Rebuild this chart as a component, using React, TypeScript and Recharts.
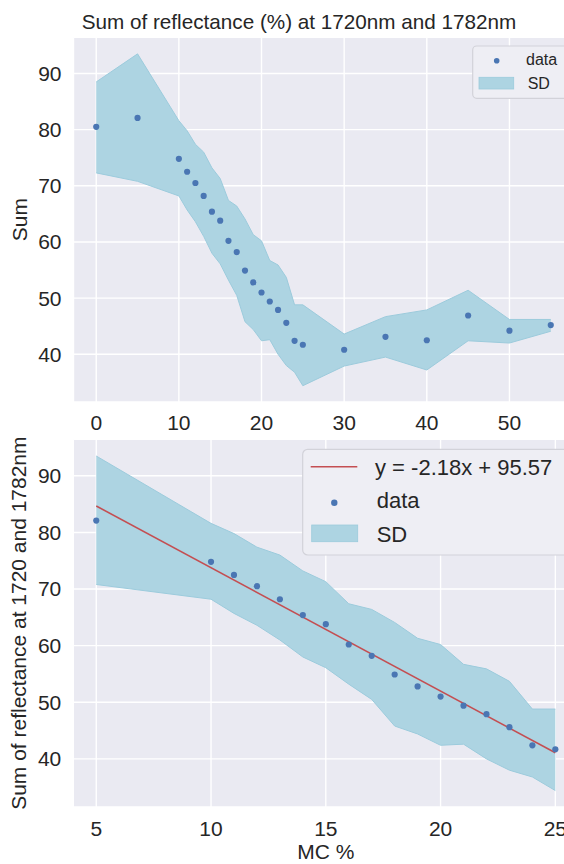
import {
  ComposedChart,
  Area,
  Line,
  Scatter,
  XAxis,
  YAxis,
  ZAxis,
  CartesianGrid,
} from "recharts";

// moisture content (%) and sum of reflectance at 1720nm + 1782nm
const MC = [0, 5, 10, 11, 12, 13, 14, 15, 16, 17, 18, 19, 20, 21, 22, 23, 24, 25, 30, 35, 40, 45, 50, 55];
const SUM_MEAN = [80.5, 82.1, 74.8, 72.5, 70.5, 68.2, 65.4, 63.8, 60.2, 58.2, 54.9, 52.8, 51.0, 49.4, 47.9, 45.6, 42.4, 41.7, 40.8, 43.1, 42.5, 46.9, 44.2, 45.2];
const SD_UPPER = [88.5, 93.5, 81.6, 79.8, 77.4, 76.0, 73.2, 71.3, 67.4, 66.4, 64.1, 61.3, 60.2, 56.7, 55.9, 53.7, 48.8, 48.8, 43.6, 46.7, 47.9, 51.4, 46.2, 46.2];
const SD_LOWER = [72.3, 70.8, 68.2, 65.7, 63.6, 61.0, 58.0, 56.1, 53.2, 50.5, 45.8, 44.4, 42.4, 42.6, 40.0, 38.0, 36.8, 34.4, 37.9, 39.5, 37.2, 42.4, 42.0, 44.1];

const TOP_X_TICKS = [0, 10, 20, 30, 40, 50];
const BOTTOM_X_TICKS = [5, 10, 15, 20, 25];
const Y_TICKS = [40, 50, 60, 70, 80, 90];

// fit over the 5..25 % range
const FIT_SLOPE = -2.18;
const FIT_INTERCEPT = 95.57;
const FIT_RANGE = [5, 25];

const FONT = '"Liberation Sans", Arial, sans-serif';
const TEXT = "#262626";
const BG = "#EAEAF2";
const BLUE = "#4a76b3";
const BAND = "#add4e2";
const BAND_EDGE = "#9ccbdc";
const RED = "#c44e52";

const topRows = MC.map((x, i) => ({
  x,
  mean: SUM_MEAN[i],
  band: [SD_LOWER[i], SD_UPPER[i]],
}));

const bottomRows = topRows
  .filter((r) => r.x >= FIT_RANGE[0] && r.x <= FIT_RANGE[1])
  .map((r) => ({
    ...r,
    fit: FIT_RANGE.includes(r.x) ? FIT_SLOPE * r.x + FIT_INTERCEPT : undefined,
  }));

const tickStyle = { fill: TEXT, fontSize: 21, fontFamily: FONT };

export default function App() {
  return (
    <div
      style={{
        position: "absolute",
        left: 0,
        top: 0,
        width: 564,
        height: 864,
        overflow: "hidden",
        background: "#fff",
        fontFamily: FONT,
      }}
    >
      <div style={{ position: "absolute", left: 0, top: 0 }}>
        <ComposedChart
          width={573.5}
          height={440}
          data={topRows}
          margin={{ top: 37.3, right: 0, bottom: 10, left: 0 }}
        >
          <CartesianGrid fill={BG} stroke="#ffffff" strokeWidth={1.4} />
          <XAxis
            dataKey="x"
            type="number"
            domain={[-2.75, 57.75]}
            ticks={TOP_X_TICKS}
            allowDataOverflow
            axisLine={false}
            tickLine={false}
            tickSize={0}
            tickMargin={13}
            height={28}
            tick={tickStyle}
          />
          <YAxis
            type="number"
            domain={[31.5, 96.45]}
            ticks={Y_TICKS}
            allowDataOverflow
            axisLine={false}
            tickLine={false}
            tickSize={0}
            tickMargin={12}
            width={73.5}
            tick={tickStyle}
            label={{
              value: "Sum",
              angle: -90,
              position: "insideLeft",
              offset: 20,
              fill: TEXT,
              fontSize: 21,
              style: { textAnchor: "middle", fontFamily: FONT },
            }}
          />
          <ZAxis range={[30, 30]} />
          <Area
            type="linear"
            dataKey="band"
            fill={BAND}
            fillOpacity={1}
            stroke={BAND_EDGE}
            strokeWidth={1}
            isAnimationActive={false}
            activeDot={false}
          />
          <Scatter
            data={topRows}
            dataKey="mean"
            fill={BLUE}
            isAnimationActive={false}
          />
        </ComposedChart>
      </div>

      <div style={{ position: "absolute", left: 0, top: 430 }}>
        <ComposedChart
          width={578.3}
          height={434}
          data={bottomRows}
          margin={{ top: 9.3, right: 0, bottom: 0, left: 0 }}
        >
          <CartesianGrid fill={BG} stroke="#ffffff" strokeWidth={1.4} />
          <XAxis
            dataKey="x"
            type="number"
            domain={[4, 26]}
            ticks={BOTTOM_X_TICKS}
            allowDataOverflow
            axisLine={false}
            tickLine={false}
            tickSize={0}
            tickMargin={14}
            height={57}
            tick={tickStyle}
            label={{
              value: "MC %",
              position: "insideBottom",
              offset: 4.5,
              fill: TEXT,
              fontSize: 21,
              style: { fontFamily: FONT },
            }}
          />
          <YAxis
            type="number"
            domain={[31.5, 96.45]}
            ticks={Y_TICKS}
            allowDataOverflow
            axisLine={false}
            tickLine={false}
            tickSize={0}
            tickMargin={12}
            width={73.3}
            tick={tickStyle}
            label={{
              value: "Sum of reflectance at 1720 and 1782nm",
              angle: -90,
              position: "insideLeft",
              offset: 19,
              fill: TEXT,
              fontSize: 21,
              style: { textAnchor: "middle", fontFamily: FONT },
            }}
          />
          <ZAxis range={[30, 30]} />
          <Area
            type="linear"
            dataKey="band"
            fill={BAND}
            fillOpacity={1}
            stroke={BAND_EDGE}
            strokeWidth={1}
            isAnimationActive={false}
            activeDot={false}
          />
          <Line
            type="linear"
            dataKey="fit"
            stroke={RED}
            strokeWidth={1.6}
            dot={false}
            activeDot={false}
            connectNulls
            isAnimationActive={false}
          />
          <Scatter
            data={bottomRows}
            dataKey="mean"
            fill={BLUE}
            isAnimationActive={false}
          />
        </ComposedChart>
      </div>

      {/* title and legends */}
      <svg
        width={564}
        height={864}
        style={{ position: "absolute", left: 0, top: 0, pointerEvents: "none" }}
        fontFamily={FONT}
      >
        <text x={299} y={28.8} textAnchor="middle" fontSize={20.7} fill={TEXT}>
          Sum of reflectance (%) at 1720nm and 1782nm
        </text>

        <rect x={472.7} y={46} width={120} height={52.3} rx={4} fill="#eeeef4" stroke="#d2d2d9" strokeWidth={1.2} />
        <circle cx={496.7} cy={60.7} r={2.8} fill={BLUE} />
        <text x={526} y={65} fontSize={16} fill={TEXT}>data</text>
        <rect x={479} y={77.3} width={34.7} height={11.7} fill={BAND} stroke={BAND_EDGE} strokeWidth={0.8} />
        <text x={527.7} y={89} fontSize={16} fill={TEXT}>SD</text>

        <rect x={302.7} y={449.3} width={290} height={105.7} rx={5} fill="#eeeef4" stroke="#d2d2d9" strokeWidth={1.2} />
        <line x1={310.7} x2={357.3} y1={466.7} y2={466.7} stroke={RED} strokeWidth={1.6} />
        <text x={375} y={474.5} fontSize={22} fill={TEXT}>y = -2.18x + 95.57</text>
        <circle cx={334.3} cy={502.7} r={3.2} fill={BLUE} />
        <text x={376.7} y={508} fontSize={22} fill={TEXT}>data</text>
        <rect x={311.7} y={525} width={46} height={16.7} fill={BAND} stroke={BAND_EDGE} strokeWidth={0.8} />
        <text x={376.7} y={541.7} fontSize={22} fill={TEXT}>SD</text>
      </svg>
    </div>
  );
}
